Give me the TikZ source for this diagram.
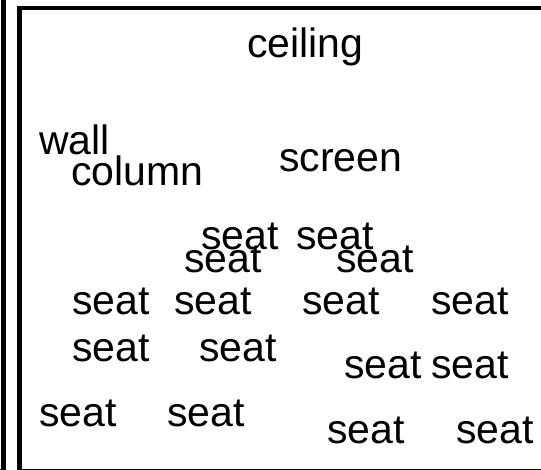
\documentclass[tikz,border=0pt]{standalone}
\usepackage{fontspec}
\setmainfont{Liberation Sans}
\begin{document}
\begin{tikzpicture}[x=1pt,y=-1pt,
  frame/.style={line width=4.5pt,line cap=butt,line join=miter},
  label/.style={inner sep=0pt,anchor=base west,font=\fontsize{41}{41}\selectfont}]
\useasboundingbox (0,0) rectangle (541,470);
\clip (0,0) rectangle (541,470);
% neighbouring room edge and the room outline
\draw[frame] (3.5,-10) -- (3.5,471.6) -- (-10,471.6);
\draw[frame] (19.5,8) rectangle (560,471.6);
% room features
\node[label] (ceiling) at (247,58) {ceiling};
\node[label] (wall) at (39,155) {wall};
\node[label] (column) at (71,186) {column};
\node[label] (screen) at (279,172) {screen};
% seats, front to back
\node[label] (s1) at (201,250) {seat};
\node[label] (s2) at (296,250) {seat};
\node[label] (s3) at (184,273) {seat};
\node[label] (s4) at (336,273) {seat};
\node[label] (s5) at (72,315) {seat};
\node[label] (s6) at (174,315) {seat};
\node[label] (s7) at (302,315) {seat};
\node[label] (s8) at (431,315) {seat};
\node[label] (s9) at (72,362) {seat};
\node[label] (s10) at (199,362) {seat};
\node[label] (s11) at (344,378) {seat};
\node[label] (s12) at (431,378) {seat};
\node[label] (s13) at (39,426) {seat};
\node[label] (s14) at (167,426) {seat};
\node[label] (s15) at (327,443) {seat};
\node[label] (s16) at (456,443) {seat};
\end{tikzpicture}
\end{document}
